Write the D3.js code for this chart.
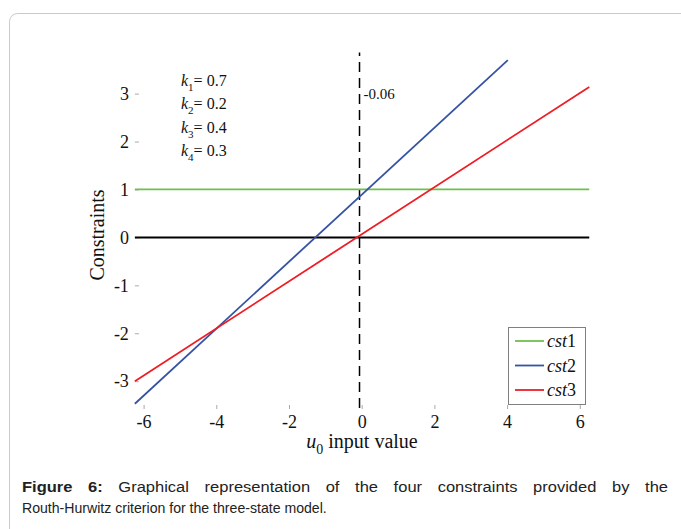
<!DOCTYPE html>
<html>
<head>
<meta charset="utf-8">
<script src="https://cdn.jsdelivr.net/npm/d3@7"></script>
<style>
  html, body { margin: 0; padding: 0; background: #fff; }
  svg { display: block; }
  .serif, .serif text { font-family: "Liberation Serif", "Times New Roman", Times, serif; }
  .sans, .sans text { font-family: "Liberation Sans", Arial, Helvetica, sans-serif; }
</style>
</head>
<body>
<svg id="fig" width="681" height="529"></svg>
<script>
// Axis ticks
const xTicks = [-6, -4, -2, 0, 2, 4, 6];
const yTicks = [-3, -2, -1, 0, 1, 2, 3];

// Constraint lines (u0 vs constraint value)
const seriesNames = ["cst1", "cst2", "cst3"];
const seriesColors = ["#6fbf4e", "#3653a3", "#ee1d25"];
const cst1X = [-6.24, 6.26];
const cst1Y = [1, 1];
const cst2X = [-6.24, 4.02];
const cst2Y = [-3.47, 3.70];
const cst3X = [-6.24, 6.26];
const cst3Y = [-3.0, 3.14];

// Zero reference line and the critical input value
const zeroX = [-6.24, 6.26];
const criticalU0 = -0.06;
const criticalSpan = [-3.56, 3.86];

// Gain parameters
const kIndex = ["1", "2", "3", "4"];
const kValues = ["0.7", "0.2", "0.4", "0.3"];

const caption1Bold = "Figure 6:";
const caption1Rest = "Graphical representation of the four constraints provided by the";
const caption2 = "Routh-Hurwitz criterion for the three-state model.";

const svg = d3.select("#fig");

// card frame
svg.append("rect")
  .attr("x", 9.5).attr("y", 13.5)
  .attr("width", 720).attr("height", 600)
  .attr("rx", 8).attr("ry", 8)
  .attr("fill", "#fff").attr("stroke", "#c9c9c9").attr("stroke-width", 1);

const chart = svg.append("g").attr("class", "serif").attr("fill", "#111");

const x = d3.scaleLinear().domain([-6, 6]).range([143.6, 579.8]);
const y = d3.scaleLinear().domain([-3, 3]).range([381.2, 93.6]);

const plotLeft = x(-6.24);

// y axis
const yAxis = chart.append("g")
  .attr("transform", `translate(${plotLeft},0)`)
  .call(d3.axisLeft(y).tickValues(yTicks).tickSize(-4).tickPadding(6)
    .tickFormat(d => d));
yAxis.attr("font-family", null).attr("font-size", 18);
yAxis.select(".domain").remove();
yAxis.selectAll("line").attr("stroke", "#aaa");
yAxis.selectAll("text").attr("fill", "#111");

// x axis
const xAxis = chart.append("g")
  .attr("transform", `translate(0,409)`)
  .call(d3.axisBottom(x).tickValues(xTicks).tickSize(-4).tickPadding(6)
    .tickFormat(d => d));
xAxis.attr("font-family", null).attr("font-size", 18);
xAxis.select(".domain").remove();
xAxis.selectAll("line").attr("stroke", "#aaa");
xAxis.selectAll("text").attr("fill", "#111");

const line = d3.line().x(d => x(d[0])).y(d => y(d[1]));

// zero line
chart.append("path")
  .datum(zeroX.map(v => [v, 0]))
  .attr("d", line).attr("fill", "none").attr("stroke", "#000").attr("stroke-width", 2);

// critical value marker
chart.append("path")
  .datum(criticalSpan.map(v => [criticalU0, v]))
  .attr("d", line).attr("fill", "none").attr("stroke", "#000")
  .attr("stroke-width", 1.5).attr("stroke-dasharray", "10,6");

chart.append("text")
  .attr("x", x(criticalU0) + 4).attr("y", y(3) + 5)
  .attr("font-size", 15)
  .text(String(criticalU0));

// constraint lines
const seriesData = [
  cst1X.map((v, i) => [v, cst1Y[i]]),
  cst2X.map((v, i) => [v, cst2Y[i]]),
  cst3X.map((v, i) => [v, cst3Y[i]])
];
seriesData.forEach((pts, i) => {
  chart.append("path")
    .datum(pts)
    .attr("d", line).attr("fill", "none")
    .attr("stroke", seriesColors[i]).attr("stroke-width", 1.8);
});

// gain parameter labels
kIndex.forEach((k, i) => {
  const t = chart.append("text")
    .attr("x", 181).attr("y", 86 + i * 23.3)
    .attr("font-size", 16);
  t.append("tspan").attr("font-style", "italic").text("k");
  t.append("tspan").attr("font-size", 11).attr("dy", 5).text(k);
  t.append("tspan").attr("dy", -5).text("= " + kValues[i]);
});

// axis titles
chart.append("text")
  .attr("transform", "translate(104,235) rotate(-90)")
  .attr("text-anchor", "middle")
  .attr("font-size", 20)
  .text("Constraints");

const xt = chart.append("text")
  .attr("x", 362).attr("y", 448)
  .attr("text-anchor", "middle")
  .attr("font-size", 20);
xt.append("tspan").attr("font-style", "italic").text("u");
xt.append("tspan").attr("font-size", 14).attr("dy", 6).text("0");
xt.append("tspan").attr("dy", -6).text(" input value");

// legend
const legend = chart.append("g");
legend.append("rect")
  .attr("x", 508.5).attr("y", 327.5).attr("width", 77).attr("height", 77)
  .attr("fill", "#fff").attr("stroke", "#808080").attr("stroke-width", 1);
seriesNames.forEach((name, i) => {
  const ly = 341 + i * 24.5;
  legend.append("line")
    .attr("x1", 515).attr("x2", 544).attr("y1", ly).attr("y2", ly)
    .attr("stroke", seriesColors[i]).attr("stroke-width", 1.8);
  const t = legend.append("text")
    .attr("x", 547).attr("y", ly + 6)
    .attr("font-size", 18);
  t.append("tspan").attr("font-style", "italic").text(name.slice(0, 3));
  t.append("tspan").text(name.slice(3));
});

// caption: second line sets the horizontal scale, first line is justified
const cap2 = svg.append("g").attr("class", "sans").attr("font-size", 15).attr("fill", "#222");
const c2 = cap2.append("text").attr("x", 22).attr("y", 513).text(caption2);
const sx = 305 / c2.node().getComputedTextLength();
cap2.attr("transform", `translate(22,0) scale(${sx},1) translate(-22,0)`);

const sx1 = sx * 1.17;
const cap1 = svg.append("g").attr("class", "sans").attr("font-size", 15).attr("fill", "#222");
const c1 = cap1.append("text").attr("x", 22).attr("y", 492);
c1.append("tspan").attr("font-weight", "bold").text(caption1Bold);
c1.append("tspan").text(" " + caption1Rest);
cap1.attr("transform", `translate(22,0) scale(${sx1},1) translate(-22,0)`);
const full1 = caption1Bold + " " + caption1Rest;
const gaps = full1.split(" ").length - 1;
const wordSp = (646 / sx1 - c1.node().getComputedTextLength()) / gaps;
c1.attr("word-spacing", Math.max(0, wordSp).toFixed(3));
</script>
</body>
</html>
